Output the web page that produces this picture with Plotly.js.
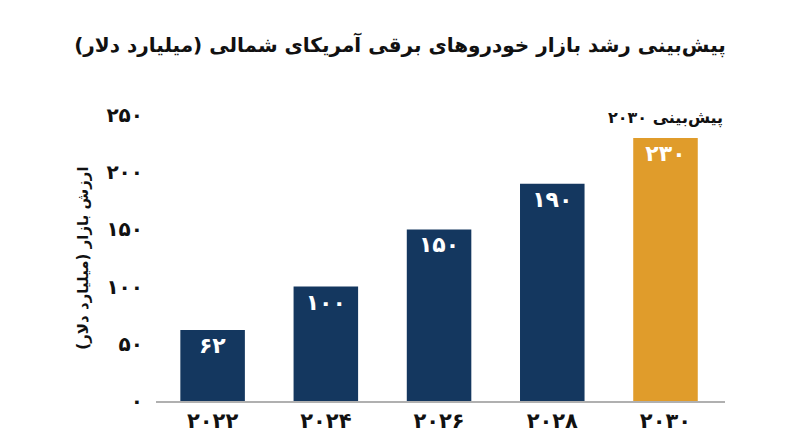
<!DOCTYPE html>
<html>
<head>
<meta charset="utf-8">
<script src="https://cdn.plot.ly/plotly-3.0.1.min.js"></script>
<style>
  html, body { margin: 0; padding: 0; background: #fff; }
  #chart { width: 800px; height: 447px; }
</style>
</head>
<body>
<div id="chart"></div>
<script>
// داده‌ها
var years = ['۲۰۲۲', '۲۰۲۴', '۲۰۲۶', '۲۰۲۸', '۲۰۳۰'];
var values = [62, 100, 150, 190, 230];
var valueLabels = ['۶۲', '۱۰۰', '۱۵۰', '۱۹۰', '۲۳۰'];
var barColors = ['#14375f', '#14375f', '#14375f', '#14375f', '#e09c2b'];
var tickValues = [0, 50, 100, 150, 200, 250];
var tickLabels = ['۰', '۵۰', '۱۰۰', '۱۵۰', '۲۰۰', '۲۵۰'];

var font = 'DejaVu Sans, Noto Sans, sans-serif';

var trace = {
  x: years,
  y: values,
  type: 'bar',
  text: valueLabels,
  textposition: 'inside',
  insidetextanchor: 'end',
  textangle: 0,
  textfont: { family: font, size: 22, color: '#ffffff', weight: 'bold' },
  marker: { color: barColors },
  hoverinfo: 'none'
};

var layout = {
  width: 800,
  height: 447,
  margin: { l: 156, r: 75, t: 115, b: 46 },
  paper_bgcolor: '#ffffff',
  plot_bgcolor: '#ffffff',
  bargap: 0.43,
  showlegend: false,
  title: {
    text: '<b>پیش‌بینی رشد بازار خودروهای برقی آمریکای شمالی (میلیارد دلار)</b>',
    font: { family: font, size: 20, color: '#111111' },
    x: 0.5,
    xanchor: 'center',
    y: 0.9,
    yanchor: 'middle'
  },
  xaxis: {
    type: 'category',
    showgrid: false,
    showline: true,
    linecolor: '#b0b0b0',
    linewidth: 1.5,
    ticks: '',
    tickfont: { family: font, size: 21, color: '#111111', weight: 'bold' },
    fixedrange: true
  },
  yaxis: {
    range: [0, 250],
    tickvals: tickValues,
    ticktext: tickLabels,
    showgrid: false,
    zeroline: false,
    showline: false,
    ticks: '',
    ticklabelstandoff: 12,
    tickfont: { family: font, size: 20, color: '#111111', weight: 'bold' },
    title: {
      text: '<b>ارزش بازار (میلیارد دلار)</b>',
      font: { family: font, size: 15, color: '#111111' },
      standoff: 14
    },
    fixedrange: true
  },
  annotations: [{
    x: years[4],
    y: values[4],
    xref: 'x',
    yref: 'y',
    text: '<b>پیش‌بینی ۲۰۳۰</b>',
    showarrow: false,
    yanchor: 'bottom',
    yshift: 8,
    font: { family: font, size: 16, color: '#111111' }
  }]
};

Plotly.newPlot('chart', [trace], layout, { displayModeBar: false, staticPlot: true });
</script>
</body>
</html>
